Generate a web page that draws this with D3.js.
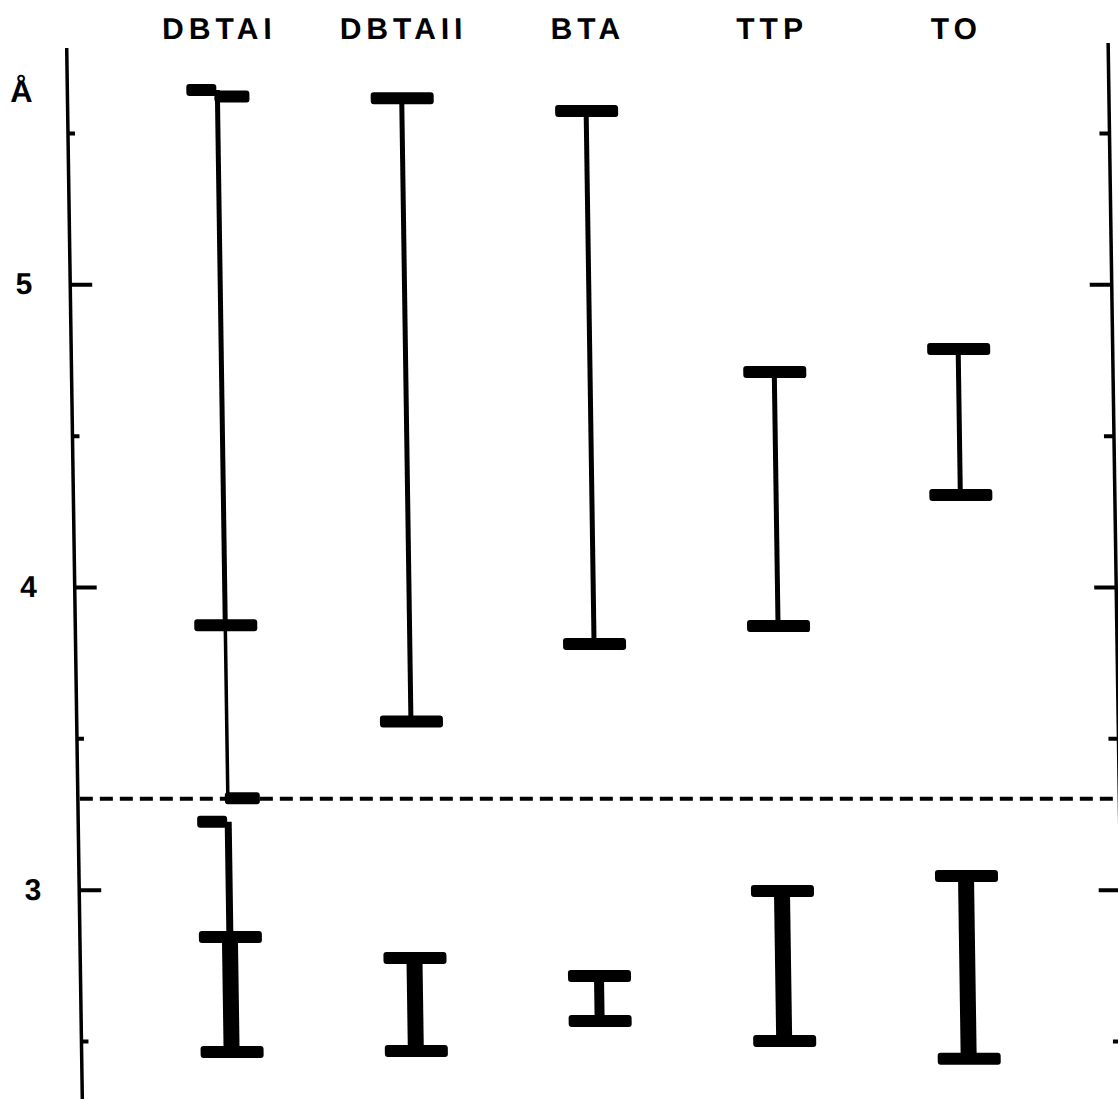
<!DOCTYPE html>
<html>
<head>
<meta charset="utf-8">
<script src="https://cdn.jsdelivr.net/npm/d3@7"></script>
<style>
    body { margin: 0; background: #fff; }
    svg { display: block; }
    text { font-family: "Liberation Sans", Arial, sans-serif; font-weight: bold; fill: #000; }
</style>
</head>
<body>
<svg id="chart" width="1118" height="1099"></svg>
<script>
    var categories = ["DBTAI", "DBTAII", "BTA", "TTP", "TO"];
    // upper (thin) ranges and lower (thick) ranges, in Å
    var upperHigh = [5.642, 5.615, 5.573, 4.710, 4.786];
    var upperLow = [3.874, 3.556, 3.812, 3.871, 4.304];
    var lowerHigh = [2.844, 2.774, 2.715, 2.996, 3.045];
    var lowerLow = [2.464, 2.467, 2.566, 2.500, 2.441];
    var topCapSide = ["left", "full", "full", "full", "full"];
    // DBTAI has a few extra pieces
    var halfCaps = [["DBTAI", 5.621, "right"], ["DBTAI", 3.302, "right"], ["DBTAI", 3.224, "left"]];
    var extraStems = [["DBTAI", 3.874, 3.302, "bridge"], ["DBTAI", 3.224, 2.844, "neck"]];
    var yTicks = [3, 4, 5];
    var yMinor = [2.5, 3.5, 4.5, 5.5];
    var cutoff = 3.30;

    var svg = d3.select("#chart");
    // the scanned figure leans a little, so everything sits in a skewed group
    var g = svg.append("g").attr("transform", "skewX(0.85)");

    var x = d3.scalePoint().domain(categories).range([216, 953]);
    var y = d3.scaleLinear().domain([2.5, 5.5]).range([1041, 133]);

    var leftX = 66, rightX = 1107.5;

    // axes
    g.append("line").attr("x1", leftX).attr("x2", leftX).attr("y1", 48).attr("y2", 1110)
        .attr("stroke", "#000").attr("stroke-width", 3.5);
    g.append("line").attr("x1", rightX).attr("x2", rightX).attr("y1", 43).attr("y2", 1110)
        .attr("stroke", "#000").attr("stroke-width", 3.5);

    function styleAxis(sel) {
        sel.select(".domain").remove();
        sel.selectAll(".tick line").attr("stroke", "#000").attr("stroke-width", 4);
        sel.selectAll(".tick text").attr("font-size", 30).attr("font-family", null);
    }

    g.append("g").attr("transform", "translate(" + leftX + ",0)")
        .call(d3.axisLeft(y).tickValues(yTicks).tickSizeInner(-22).tickSizeOuter(0).tickPadding(38).tickFormat(d3.format("d")))
        .call(styleAxis);
    g.append("g").attr("transform", "translate(" + leftX + ",0)")
        .call(d3.axisLeft(y).tickValues(yMinor).tickSizeInner(-7).tickSizeOuter(0).tickFormat(""))
        .call(styleAxis);
    g.append("g").attr("transform", "translate(" + rightX + ",0)")
        .call(d3.axisRight(y).tickValues(yTicks).tickSizeInner(-22).tickSizeOuter(0).tickFormat(""))
        .call(styleAxis);
    g.append("g").attr("transform", "translate(" + rightX + ",0)")
        .call(d3.axisRight(y).tickValues(yMinor).tickSizeInner(-10).tickSizeOuter(0).tickFormat(""))
        .call(styleAxis);

    g.append("text").attr("x", 20).attr("y", 102).attr("text-anchor", "middle")
        .attr("font-size", 31).text("Å");

    // category labels
    g.selectAll(".cat").data(categories).enter().append("text")
        .attr("class", "cat")
        .attr("x", (d) => x(d))
        .attr("dx", 3)
        .attr("y", 39)
        .attr("text-anchor", "middle")
        .attr("font-size", 30)
        .attr("letter-spacing", 5)
        .text((d) => d);

    // dashed cut-off line
    g.append("line").attr("x1", leftX + 2).attr("x2", 1140)
        .attr("y1", y(cutoff)).attr("y2", y(cutoff))
        .attr("stroke", "#000").attr("stroke-width", 4).attr("stroke-dasharray", "13,7");

    // stems
    var stems = [];
    categories.forEach(function (c, i) {
        stems.push({cat: c, hi: upperHigh[i], lo: upperLow[i], kind: "upper"});
        stems.push({cat: c, hi: lowerHigh[i], lo: lowerLow[i], kind: "lower"});
    });
    extraStems.forEach(function (s) {
        stems.push({cat: s[0], hi: s[1], lo: s[2], kind: s[3]});
    });
    var stemWidth = {upper: 5, bridge: 3.5, neck: 7, lower: 16};

    g.selectAll(".stem").data(stems).enter().append("line")
        .attr("class", "stem")
        .attr("x1", (d) => x(d.cat)).attr("x2", (d) => x(d.cat))
        .attr("y1", (d) => y(d.hi)).attr("y2", (d) => y(d.lo))
        .attr("stroke", "#000")
        .attr("stroke-width", (d) => d.kind === "lower" && d.cat === "BTA" ? 10 : stemWidth[d.kind]);

    // caps
    var caps = [];
    categories.forEach(function (c, i) {
        caps.push({cat: c, v: upperHigh[i], side: topCapSide[i]});
        caps.push({cat: c, v: upperLow[i], side: "full"});
        caps.push({cat: c, v: lowerHigh[i], side: "full"});
        caps.push({cat: c, v: lowerLow[i], side: "full"});
    });
    halfCaps.forEach(function (h) {
        caps.push({cat: h[0], v: h[1], side: h[2]});
    });
    var capSpan = {full: [-31, 32], left: [-31, -1], right: [-3, 32]};

    g.selectAll(".cap").data(caps).enter().append("rect")
        .attr("class", "cap")
        .attr("x", (d) => x(d.cat) + capSpan[d.side][0])
        .attr("width", (d) => capSpan[d.side][1] - capSpan[d.side][0])
        .attr("y", (d) => y(d.v) - 6)
        .attr("height", 12)
        .attr("rx", 3)
        .attr("fill", "#000");
</script>
</body>
</html>
